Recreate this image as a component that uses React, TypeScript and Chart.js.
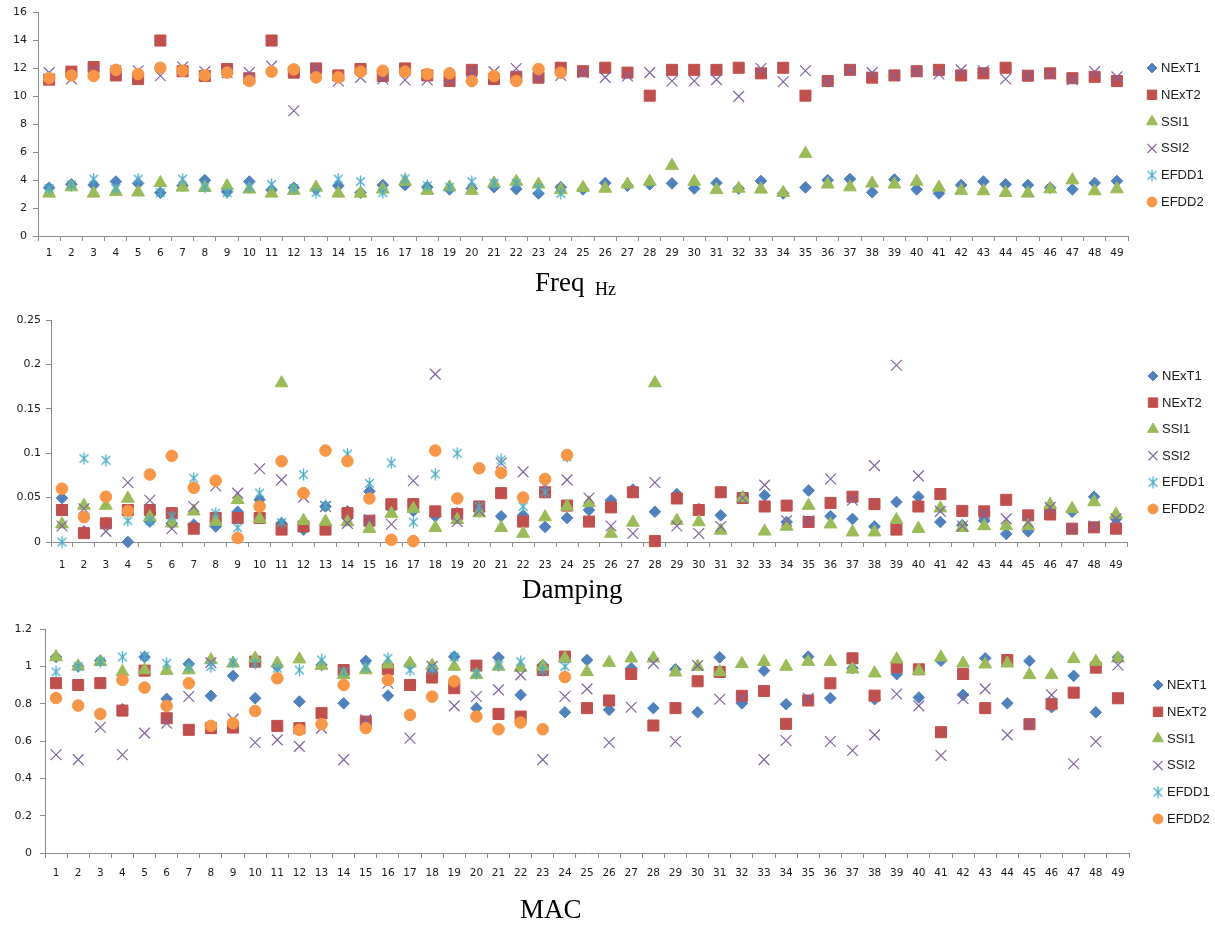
import React, { useEffect, useRef } from 'react';
import { Chart, registerables } from 'chart.js';
import { drawPoint } from 'chart.js/helpers';

Chart.register(...registerables);

const categories = ['1','2','3','4','5','6','7','8','9','10','11','12','13','14','15','16','17','18','19','20','21','22','23','24','25','26','27','28','29','30','31','32','33','34','35','36','37','38','39','40','41','42','43','44','45','46','47','48','49'];
const seriesNames = ['NExT1', 'NExT2', 'SSI1', 'SSI2', 'EFDD1', 'EFDD2'];
const seriesColors = ['#4F81BD', '#C0504D', '#9BBB59', '#8064A2', '#4BACC6', '#F79646'];

// ---- Freq (Hz) ----
const freqNExT1 = [3.46,3.7,3.65,3.9,3.77,3.1,3.6,4.0,3.17,3.9,3.3,3.46,3.34,3.6,3.1,3.65,3.65,3.5,3.34,3.4,3.5,3.36,3.05,3.5,3.34,3.8,3.6,3.7,3.77,3.4,3.8,3.4,3.94,3.05,3.48,4.0,4.08,3.13,4.05,3.34,3.05,3.65,3.9,3.7,3.65,3.46,3.34,3.8,3.94];
const freqNExT2 = [11.2,11.77,12.1,11.5,11.24,14.0,11.8,11.46,11.96,11.3,14.0,11.7,12.0,11.5,11.96,11.46,12.0,11.5,11.1,11.9,11.24,11.4,11.34,12.05,11.8,12.05,11.7,10.05,11.9,11.9,11.9,12.05,11.65,12.05,10.05,11.1,11.9,11.34,11.5,11.8,11.9,11.5,11.65,12.05,11.48,11.65,11.3,11.4,11.1];
const freqSSI1 = [3.05,3.5,3.05,3.17,3.13,3.8,3.48,3.46,3.58,3.34,3.05,3.25,3.48,3.05,3.05,3.34,3.9,3.25,3.5,3.25,3.77,3.9,3.7,3.3,3.46,3.4,3.7,3.9,5.04,3.9,3.3,3.4,3.34,3.1,5.9,3.7,3.5,3.77,3.7,3.9,3.48,3.25,3.22,3.1,3.05,3.36,4.0,3.22,3.36];
const freqSSI2 = [11.7,11.24,11.77,11.84,11.84,11.48,12.1,11.77,11.7,11.7,12.17,8.97,12.0,11.1,11.36,11.24,11.17,11.17,11.2,11.77,11.77,12.0,11.4,11.5,11.7,11.36,11.46,11.7,11.1,11.1,11.2,10.0,12.0,11.05,11.84,11.05,11.9,11.7,11.5,11.77,11.6,11.9,11.84,11.24,11.5,11.6,11.2,11.77,11.4];
const freqEFDD1 = [3.4,3.65,4.08,3.4,4.08,3.1,4.08,3.5,3.1,3.5,3.7,3.4,3.1,4.08,3.9,3.1,4.1,3.6,3.5,3.9,3.77,3.77,3.4,3.05];
const freqEFDD2 = [11.3,11.5,11.46,11.9,11.6,12.05,11.84,11.5,11.7,11.1,11.77,11.93,11.36,11.36,11.77,11.84,11.77,11.6,11.65,11.1,11.46,11.1,11.96,11.7];

// ---- Damping ----
const dampNExT1 = [0.0495,0.012,0.021,0.0,0.023,0.021,0.0195,0.0175,0.034,0.0475,0.021,0.014,0.040,0.0345,0.057,0.0375,0.035,0.029,0.0325,0.0345,0.029,0.030,0.017,0.027,0.036,0.047,0.059,0.034,0.054,0.037,0.030,0.051,0.0525,0.0225,0.058,0.029,0.026,0.0175,0.045,0.051,0.0225,0.019,0.024,0.009,0.012,0.032,0.034,0.051,0.026];
const dampNExT2 = [0.036,0.010,0.021,0.036,0.036,0.0325,0.015,0.027,0.027,0.027,0.014,0.0175,0.014,0.0325,0.024,0.0425,0.0427,0.0345,0.0315,0.040,0.055,0.023,0.056,0.041,0.023,0.039,0.056,0.001,0.049,0.036,0.056,0.0495,0.040,0.041,0.0225,0.044,0.051,0.0427,0.014,0.040,0.054,0.035,0.0345,0.0475,0.030,0.031,0.015,0.0165,0.015];
const dampSSI1 = [0.020,0.041,0.041,0.049,0.028,0.021,0.0345,0.023,0.0475,0.026,0.179,0.024,0.023,0.0225,0.015,0.032,0.0375,0.016,0.025,0.0325,0.016,0.0095,0.028,0.040,0.044,0.0095,0.022,0.179,0.024,0.0225,0.013,0.0495,0.012,0.0175,0.041,0.020,0.011,0.011,0.025,0.015,0.038,0.016,0.018,0.018,0.018,0.042,0.0375,0.045,0.031];
const dampSSI2 = [0.018,0.0375,0.012,0.067,0.047,0.015,0.040,0.063,0.055,0.0825,0.070,0.0505,0.040,0.021,0.025,0.020,0.069,0.189,0.023,0.035,0.089,0.079,0.0625,0.070,0.0495,0.018,0.0095,0.067,0.018,0.0095,0.0175,0.0495,0.064,0.024,0.024,0.071,0.047,0.086,0.199,0.0745,0.0345,0.018,0.032,0.026,0.0225,0.039,0.015,0.018,0.026];
const dampEFDD1 = [0.0,0.094,0.092,0.024,0.024,0.029,0.072,0.0325,0.016,0.055,0.022,0.076,0.041,0.099,0.066,0.089,0.0225,0.0765,0.100,0.040,0.0925,0.040,0.056,0.096];
const dampEFDD2 = [0.060,0.028,0.051,0.035,0.076,0.097,0.061,0.069,0.0045,0.040,0.091,0.055,0.103,0.091,0.049,0.0025,0.001,0.103,0.049,0.083,0.078,0.050,0.071,0.098];

// ---- MAC ----
const macNExT1 = [1.05,1.0,1.03,0.77,1.05,0.826,1.013,0.842,0.949,0.829,1.0,0.811,1.007,0.802,1.029,0.843,1.01,0.984,1.052,0.776,1.047,0.847,1.007,0.754,1.034,0.767,0.99,0.776,0.984,0.754,1.048,0.802,0.977,0.797,1.052,0.829,0.99,0.824,0.958,0.833,1.03,0.847,1.043,0.802,1.029,0.781,0.949,0.754,1.048];
const macNExT2 = [0.91,0.90,0.91,0.763,0.977,0.722,0.66,0.669,0.672,1.025,0.681,0.669,0.749,0.98,0.704,0.984,0.90,0.94,0.883,1.004,0.745,0.731,0.98,1.052,0.776,0.817,0.959,0.683,0.776,0.92,0.97,0.842,0.868,0.692,0.817,0.909,1.043,0.843,0.995,0.984,0.647,0.959,0.776,1.034,0.69,0.799,0.859,0.993,0.829];
const macSSI1 = [1.05,1.0,1.025,0.97,0.98,0.977,0.98,1.034,1.016,1.043,1.016,1.038,1.004,0.954,0.98,1.011,1.016,1.004,0.999,0.954,0.999,0.993,0.999,1.043,0.97,1.02,1.043,1.043,0.968,0.999,0.97,1.013,1.025,0.999,1.025,1.025,0.984,0.963,1.038,0.977,1.048,1.016,1.011,1.016,0.954,0.954,1.04,1.025,1.043];
const macSSI2 = [0.526,0.50,0.674,0.526,0.642,0.695,0.838,1.02,0.717,0.592,0.606,0.571,0.669,0.50,0.713,0.909,0.615,1.0,0.788,0.838,0.874,0.954,0.50,0.838,0.879,0.592,0.781,1.016,0.597,1.004,0.824,0.829,0.50,0.603,0.829,0.597,0.549,0.633,0.852,0.788,0.522,0.826,0.879,0.633,0.69,0.847,0.478,0.597,1.007];
const macEFDD1 = [0.97,1.0,1.025,1.05,1.055,1.016,0.999,0.999,1.02,1.016,0.99,0.98,1.034,0.97,0.995,1.043,0.98,0.984,1.05,0.963,1.007,1.025,0.98,0.999];
const macEFDD2 = [0.83,0.79,0.745,0.927,0.886,0.788,0.909,0.681,0.695,0.761,0.936,0.66,0.69,0.90,0.669,0.927,0.74,0.838,0.92,0.731,0.663,0.699,0.663,0.942];

const freqYTicks = { min: 0, max: 16, step: 2 };
const dampYTicks = { min: 0, max: 0.25, step: 0.05 };
const macYTicks = { min: 0, max: 1.2, step: 0.2 };

const PAGE_W = 1215;

function makeStar(color: string, size: number): HTMLCanvasElement {
  const c = document.createElement('canvas');
  c.width = size;
  c.height = size;
  const g = c.getContext('2d') as CanvasRenderingContext2D;
  g.strokeStyle = color;
  g.lineWidth = 1.3;
  const m = size / 2;
  const r = size / 2 - 0.5;
  const d = r * 0.72;
  g.beginPath();
  g.moveTo(m, m - r);
  g.lineTo(m, m + r);
  g.moveTo(m - d, m - d);
  g.lineTo(m + d, m + d);
  g.moveTo(m + d, m - d);
  g.lineTo(m - d, m + d);
  g.stroke();
  return c;
}

type PanelProps = {
  top: number;
  height: number;
  plotLeft: number;
  plotRight: number;
  plotTop: number;
  plotBottom: number;
  yTicks: { min: number; max: number; step: number };
  series: number[][];
  legendX: number;
  legendY: number;
  legendGap: number;
  xLabelPad: number;
  yLabelPad: number;
};

function Panel(p: PanelProps) {
  const ref = useRef<HTMLCanvasElement>(null);
  useEffect(() => {
    const canvas = ref.current as HTMLCanvasElement;
    const star = makeStar(seriesColors[4], 13);
    const styles: any[] = ['rectRot', 'rect', 'triangle', 'crossRot', star, 'circle'];
    const radii = [5.8, 7.8, 7.4, 7.6, 6.5, 5.8];
    const borderW = [1, 1, 1, 1.2, 1, 1];
    const X_H = 42;
    const padTop = p.plotTop - p.top;
    const padBottom = p.height - (p.plotBottom - p.top) - X_H;
    const tickFont = { family: '"DejaVu Sans"', size: 10.5 };

    const legendPlugin = {
      id: 'sideLegend',
      afterDraw(chart: any) {
        const ctx = chart.ctx as CanvasRenderingContext2D;
        ctx.save();
        for (let i = 0; i < seriesNames.length; i++) {
          const x = p.legendX;
          const y = p.legendY - p.top + i * p.legendGap;
          ctx.fillStyle = seriesColors[i];
          ctx.strokeStyle = seriesColors[i];
          ctx.lineWidth = borderW[i];
          drawPoint(ctx, { pointStyle: styles[i], rotation: 0, radius: radii[i] * 0.85, borderWidth: borderW[i] } as any, x, y);
          ctx.fillStyle = '#1a1a1a';
          ctx.font = '13px "Liberation Sans"';
          ctx.textBaseline = 'middle';
          ctx.textAlign = 'left';
          ctx.fillText(seriesNames[i], x + 9, y + 0.5);
        }
        ctx.restore();
      },
    };

    const chart = new Chart(canvas, {
      type: 'line',
      data: {
        labels: categories,
        datasets: p.series.map((d, i) => ({
          label: seriesNames[i],
          data: d,
          showLine: false,
          pointStyle: styles[i],
          pointRadius: radii[i],
          pointHoverRadius: radii[i],
          pointBackgroundColor: seriesColors[i],
          pointBorderColor: seriesColors[i],
          pointBorderWidth: borderW[i],
          borderColor: seriesColors[i],
          backgroundColor: seriesColors[i],
          order: seriesNames.length - i,
          clip: false as any,
        })),
      },
      options: {
        responsive: false,
        animation: false,
        events: [],
        layout: { padding: { left: 0, right: PAGE_W - p.plotRight, top: padTop, bottom: padBottom } },
        plugins: { legend: { display: false }, tooltip: { enabled: false }, title: { display: false } },
        scales: {
          x: {
            type: 'category',
            offset: true,
            grid: { offset: true, drawOnChartArea: false, drawTicks: true, tickLength: 5, color: '#8a8a8a', lineWidth: 1 },
            border: { display: true, color: '#8a8a8a', width: 1 },
            ticks: { autoSkip: false, maxRotation: 0, minRotation: 0, padding: p.xLabelPad, color: '#1a1a1a', font: tickFont },
            afterFit: (s: any) => { s.height = X_H; },
          },
          y: {
            min: p.yTicks.min,
            max: p.yTicks.max,
            grid: { drawOnChartArea: false, drawTicks: true, tickLength: 5, color: '#8a8a8a', lineWidth: 1 },
            border: { display: true, color: '#8a8a8a', width: 1 },
            ticks: {
              stepSize: p.yTicks.step,
              padding: p.yLabelPad,
              color: '#1a1a1a',
              font: { family: '"DejaVu Sans"', size: 11 },
              callback: (v: any) => String(Number(Number(v).toFixed(3))),
            },
            afterFit: (s: any) => { s.width = p.plotLeft; },
          },
        },
      },
      plugins: [legendPlugin],
    } as any);
    return () => chart.destroy();
  }, []);
  return (
    <canvas
      ref={ref}
      width={PAGE_W}
      height={p.height}
      style={{ position: 'absolute', left: 0, top: p.top, width: PAGE_W, height: p.height, display: 'block' }}
    />
  );
}

const titleStyle: React.CSSProperties = {
  position: 'absolute',
  fontFamily: '"Liberation Serif", "Times New Roman", serif',
  whiteSpace: 'nowrap',
  color: '#000',
};

export default function App() {
  return (
    <div style={{ position: 'absolute', left: 0, top: 0, width: PAGE_W, height: 929, background: '#ffffff', overflow: 'hidden' }}>
      <Panel
        top={0} height={290}
        plotLeft={38} plotRight={1128} plotTop={12} plotBottom={236}
        yTicks={freqYTicks}
        series={[freqNExT1, freqNExT2, freqSSI1, freqSSI2, freqEFDD1, freqEFDD2]}
        legendX={1152} legendY={68} legendGap={26.8}
        xLabelPad={6} yLabelPad={6}
      />
      <Panel
        top={300} height={300}
        plotLeft={51} plotRight={1127} plotTop={320} plotBottom={542}
        yTicks={dampYTicks}
        series={[dampNExT1, dampNExT2, dampSSI1, dampSSI2, dampEFDD1, dampEFDD2]}
        legendX={1153} legendY={376} legendGap={26.6}
        xLabelPad={12} yLabelPad={5}
      />
      <Panel
        top={610} height={300}
        plotLeft={45} plotRight={1129} plotTop={629} plotBottom={853}
        yTicks={macYTicks}
        series={[macNExT1, macNExT2, macSSI1, macSSI2, macEFDD1, macEFDD2]}
        legendX={1158} legendY={685} legendGap={26.8}
        xLabelPad={9} yLabelPad={8}
      />
      <div style={{ ...titleStyle, left: 535, top: 269, fontSize: 27, lineHeight: '27px' }}>Freq</div>
      <div style={{ ...titleStyle, left: 595, top: 280, fontSize: 18, lineHeight: '18px' }}>Hz</div>
      <div style={{ ...titleStyle, left: 522, top: 576, fontSize: 27, lineHeight: '27px' }}>Damping</div>
      <div style={{ ...titleStyle, left: 520, top: 896, fontSize: 27, lineHeight: '27px' }}>MAC</div>
    </div>
  );
}
